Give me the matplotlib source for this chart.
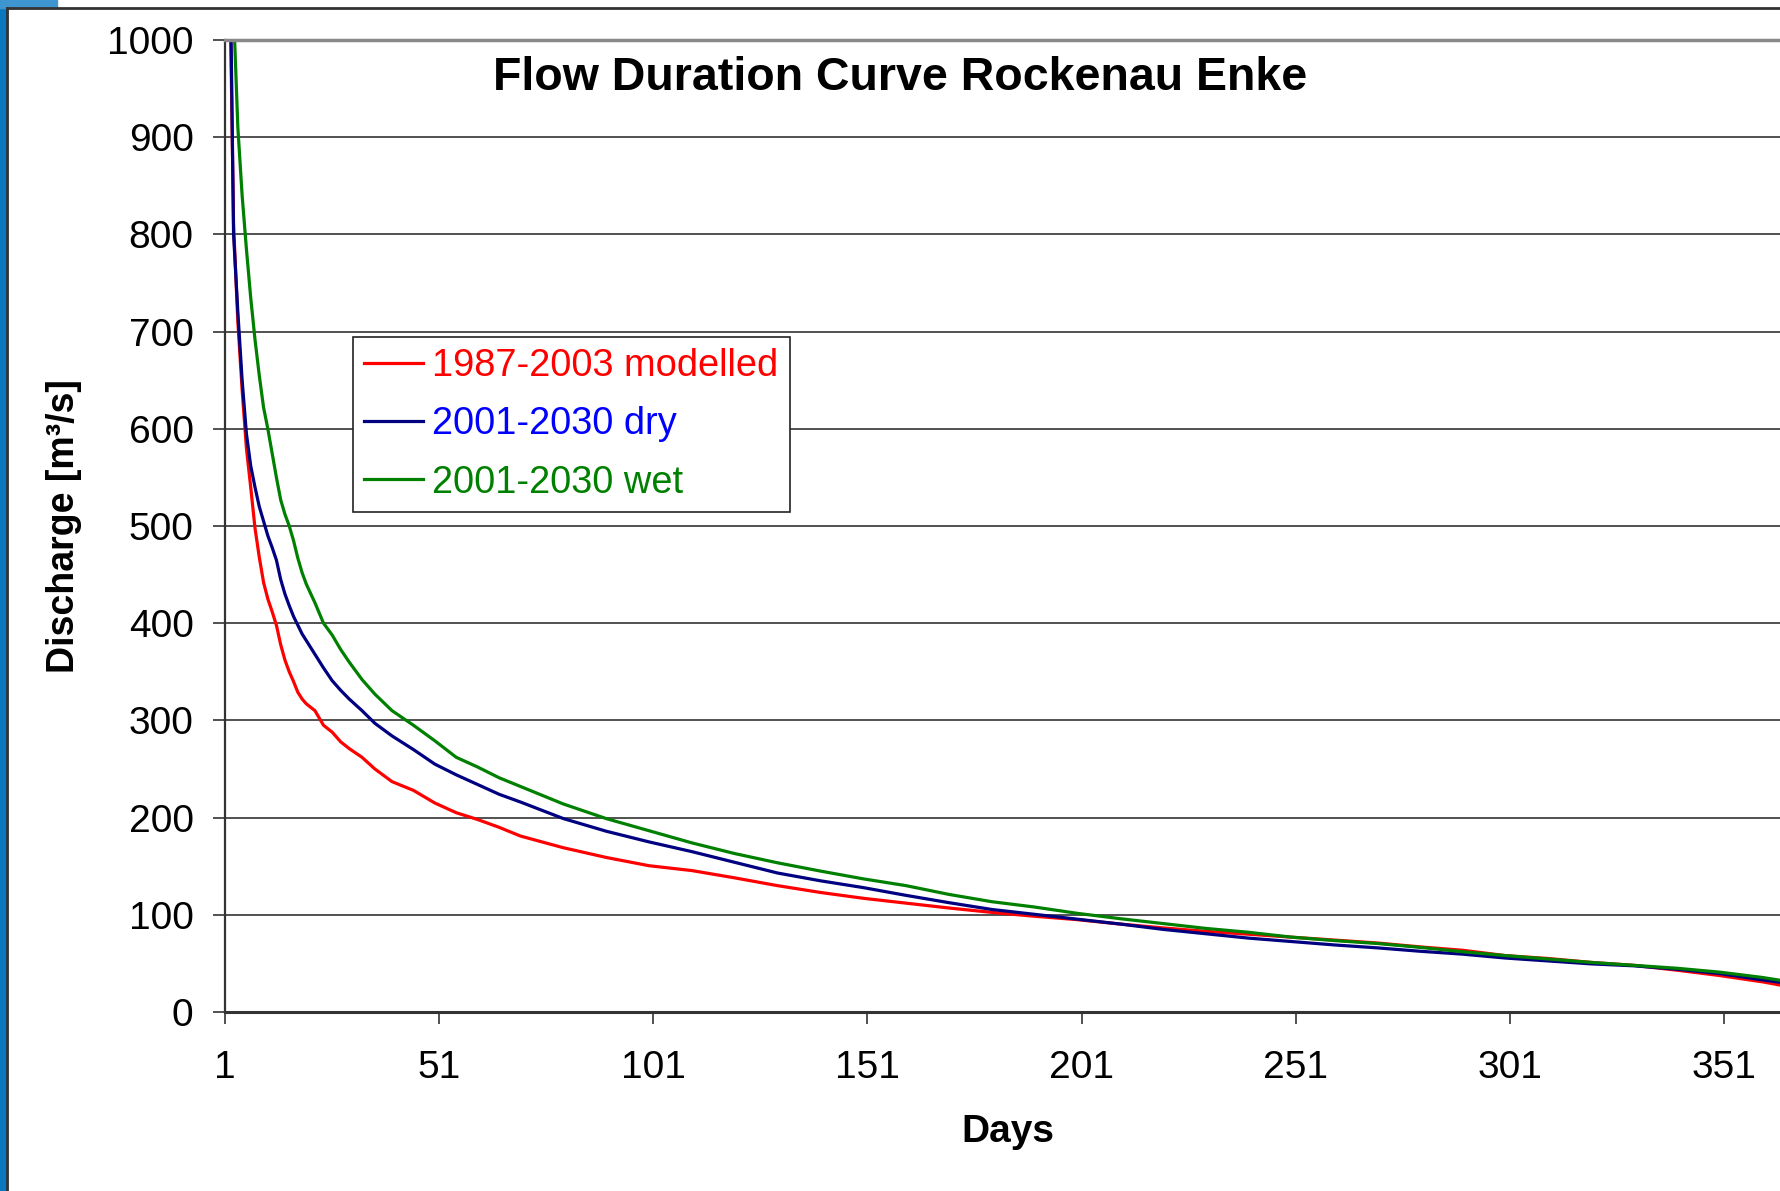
import matplotlib
matplotlib.use("Agg")
import matplotlib.pyplot as plt
from matplotlib.patches import Rectangle
from matplotlib.lines import Line2D

plt.rcParams['font.family'] = ['Liberation Sans', 'DejaVu Sans']

# days of the year (sorted duration)
days = [1, 2, 3, 4, 5, 6, 7, 8, 9, 10, 11, 12, 13, 14, 15, 16, 17, 18, 19, 20,
        22, 24, 26, 28, 30, 33, 36, 40, 45, 50, 55, 60, 65, 70, 80, 90, 100,
        110, 120, 130, 140, 150, 160, 170, 180, 190, 200, 210, 220, 230, 240,
        250, 260, 270, 280, 290, 300, 310, 320, 330, 340, 350, 360, 365]

# discharge [m3/s]
q_modelled = [1500, 1100, 810, 710, 640, 580, 540, 498, 468, 442, 425, 412, 398, 378, 362, 350, 340, 329, 322, 317,
              310, 295, 288, 278, 271, 262, 250, 237, 228, 215, 205, 198, 190, 181, 169, 159, 150.5,
              145.5, 138, 130, 123, 117, 112, 107, 102.5, 98.5, 95, 90.5, 86.5, 83, 80,
              77, 74, 71, 67, 63.5, 58, 55, 51, 48, 43, 37.5, 31, 27]
q_dry = [1500, 1150, 800, 720, 650, 595, 562, 540, 520, 505, 490, 478, 465, 445, 430, 418, 407, 398, 389, 382,
         368, 354, 341, 331, 322, 310, 297, 284, 270, 255, 244, 234, 224, 216, 199, 186, 175,
         165, 154, 143, 135, 128, 120, 112.5, 105.5, 100.5, 95.5, 90.5, 85, 80.5, 76,
         72.5, 69, 66, 62.5, 59.5, 55.5, 52.5, 49.5, 47.5, 44, 39.5, 33, 30]
q_wet = [1700, 1300, 1030, 910, 840, 785, 735, 692, 655, 622, 600, 575, 550, 527, 512, 500, 485, 467, 452, 440,
         421, 400, 388, 373, 360, 342, 327, 310, 295, 279, 262, 252, 241, 232, 214, 199, 186.5,
         174, 163, 153.5, 145, 137, 130, 121, 113.5, 108, 101.5, 96, 91, 86, 82,
         77, 73.5, 70.5, 66.5, 62, 58, 54.5, 51, 48, 45, 41, 35.5, 32]

labels = ['1987-2003 modelled', '2001-2030 dry', '2001-2030 wet']
line_colors = ['#ff0000', '#000080', '#008000']
text_colors = ['#ff0000', '#0000ff', '#008000']

W, H = 1780, 1191
fig = plt.figure(figsize=(W / 100, H / 100), dpi=100)

# slide background bits (blue strip + frame)
fig.patches.append(Rectangle((0, 0), 7 / W, 1, transform=fig.transFigure, color='#0a78be', zorder=0))
fig.patches.append(Rectangle((0, 1 - 8 / H), 57 / W, 8 / H, transform=fig.transFigure, color='#3f95cf', zorder=0))
fig.lines.append(Line2D([7 / W, 1], [1 - 8 / H, 1 - 8 / H], transform=fig.transFigure, color='#333333', lw=2))
fig.lines.append(Line2D([7 / W, 7 / W], [0, 1 - 8 / H], transform=fig.transFigure, color='#333333', lw=2))

ax = fig.add_axes([225 / W, 1 - 1012 / H, 1 - 225 / W, (1012 - 40) / H])

for q, c, lab in zip([q_modelled, q_dry, q_wet], line_colors, labels):
    ax.plot(days, q, color=c, lw=2.3, label=lab)

ax.set_xlim(1, 1 + (W - 225) / 4.283)
ax.set_ylim(0, 1000)
ax.set_xticks(range(1, 352, 50))
ax.set_yticks(range(0, 1001, 100))
ax.yaxis.grid(True, color='#222222', lw=1.1)
ax.set_axisbelow(True)

ax.spines['right'].set_visible(False)
ax.spines['top'].set_color('#888888')
ax.spines['top'].set_linewidth(2.5)
ax.spines['left'].set_color('#333333')
ax.spines['left'].set_linewidth(1.6)
ax.spines['bottom'].set_color('#333333')
ax.spines['bottom'].set_linewidth(2.2)

ax.tick_params(axis='y', direction='out', length=8.6, width=1.2, color='#333333',
               pad=14, labelsize=28)
ax.tick_params(axis='x', direction='out', length=8.6, width=1.2, color='#333333',
               pad=19, labelsize=28)

fig.text(900 / W, 1 - 90 / H, 'Flow Duration Curve Rockenau Enke', ha='center', va='baseline',
         fontsize=33.5, fontweight='bold')
fig.text(1008 / W, 1 - 1142 / H, 'Days', ha='center', va='baseline', fontsize=28, fontweight='bold')
fig.text(64 / W, 1 - 526 / H, 'Discharge [m³/s]', ha='center', va='center', rotation=90,
         fontsize=27, fontweight='bold')

leg = fig.legend(loc='upper left', bbox_to_anchor=(353 / W, 1 - 337 / H), borderaxespad=0,
                 fontsize=27.4, handlelength=1.53, handletextpad=0.25, labelspacing=0.58,
                 borderpad=0.3, fancybox=False, framealpha=1, edgecolor='#222222',
                 labelcolor=text_colors)
leg.get_frame().set_linewidth(1.2)

fig.savefig('out.png', dpi=100)
